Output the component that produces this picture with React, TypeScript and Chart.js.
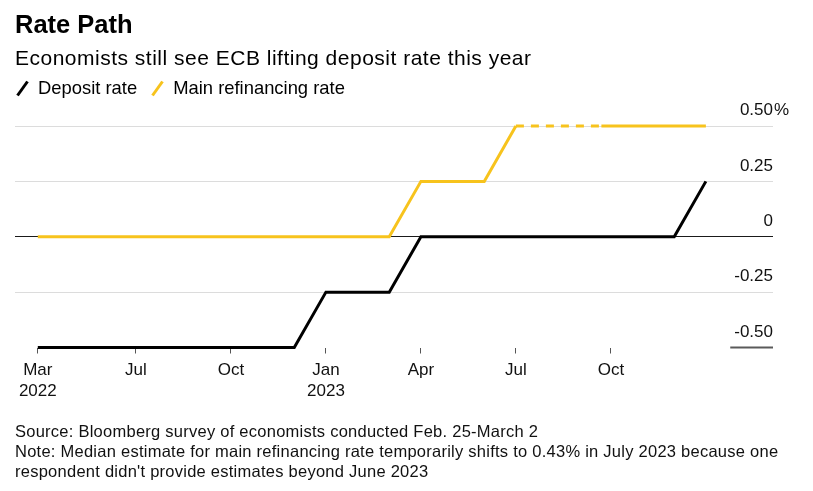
import React, { useEffect, useRef } from "react";
import { Chart, registerables } from "chart.js";

Chart.register(...registerables);

const FONT = '"Liberation Sans", Arial, Helvetica, sans-serif';

const titleText = "Rate Path";
const subtitleText = "Economists still see ECB lifting deposit rate this year";
const seriesNames = ["Deposit rate", "Main refinancing rate"];
const seriesColors = ["#000000", "#F7C31D"];

// x values: months relative to January 2023 (0 = Jan 2023)
const depositMonths = [-9.1, -1, 0, 2, 3, 11, 12];
const depositRates = [-0.5, -0.5, -0.25, -0.25, 0, 0, 0.25];
const refiMonths = [-9.1, 2, 3, 5, 6, 8.7, 12];
const refiRates = [0, 0, 0.25, 0.25, 0.5, 0.5, 0.5];
// segment i joins point i and point i+1
const refiDashedSegments = [false, false, false, false, true, false];

const xTickMonths = [-9.1, -6, -3, 0, 3, 6, 9];
const xTickLabels = [["Mar", "2022"], ["Jul"], ["Oct"], ["Jan", "2023"], ["Apr"], ["Jul"], ["Oct"]];
const xMin = -9.82;
const xMax = 14.12;

const yTickValues = [0.5, 0.25, 0, -0.25, -0.5];
const yTickLabels = ["0.50", "0.25", "0", "-0.25", "-0.50"];
const yUnitSuffix = "%";
const yMin = -0.5;
const yMax = 0.5;

const sourceText = "Source: Bloomberg survey of economists conducted Feb. 25-March 2";
const noteText =
  "Note: Median estimate for main refinancing rate temporarily shifts to 0.43% in July 2023 because one respondent didn't provide estimates beyond June 2023";

const Y_LABEL_OFFSET = -15.5;
const AXIS_FONT_SIZE = 17;

const yAxisExtras = {
  id: "yAxisExtras",
  beforeDatasetsDraw(chart: any) {
    const { ctx, chartArea, scales } = chart;
    const y = scales.y.getPixelForValue(yMin);
    ctx.save();
    ctx.font = `${AXIS_FONT_SIZE}px ${FONT}`;
    const w = ctx.measureText(yTickLabels[yTickValues.indexOf(yMin)]).width;
    ctx.strokeStyle = "#5a5a5a";
    ctx.lineWidth = 2;
    ctx.beginPath();
    ctx.moveTo(chartArea.right - w - 4, y);
    ctx.lineTo(chartArea.right, y);
    ctx.stroke();
    ctx.restore();
  },
  afterDraw(chart: any) {
    const { ctx, chartArea, scales } = chart;
    const y = scales.y.getPixelForValue(yMax) + Y_LABEL_OFFSET;
    ctx.save();
    ctx.font = `${AXIS_FONT_SIZE}px ${FONT}`;
    ctx.fillStyle = "#111111";
    ctx.textAlign = "left";
    ctx.textBaseline = "middle";
    ctx.fillText(yUnitSuffix, chartArea.right + 1, y);
    ctx.restore();
  },
};

function LegendIcon({ color }: { color: string }) {
  return (
    <svg width="13" height="17" style={{ display: "inline-block", verticalAlign: "middle" }}>
      <line x1="1.5" y1="15.5" x2="11.5" y2="1.5" stroke={color} strokeWidth="3" />
    </svg>
  );
}

export default function App() {
  const canvasRef = useRef<HTMLCanvasElement | null>(null);

  useEffect(() => {
    const prevMargin = document.body.style.margin;
    document.body.style.margin = "0";
    const canvas = canvasRef.current;
    if (!canvas) return;
    const chart = new Chart(canvas, {
      type: "line",
      data: {
        datasets: [
          {
            label: seriesNames[0],
            data: depositMonths.map((m, i) => ({ x: m, y: depositRates[i] })),
            borderColor: seriesColors[0],
            borderWidth: 3,
            pointRadius: 0,
            tension: 0,
            clip: false as any,
            borderJoinStyle: "miter",
            order: 1,
          },
          {
            label: seriesNames[1],
            data: refiMonths.map((m, i) => ({ x: m, y: refiRates[i] })),
            borderColor: seriesColors[1],
            borderWidth: 3,
            pointRadius: 0,
            tension: 0,
            clip: false as any,
            borderJoinStyle: "miter",
            segment: {
              borderDash: (ctx: any) => (refiDashedSegments[ctx.p0DataIndex] ? [8, 7] : undefined),
            },
            order: 2,
          },
        ],
      },
      options: {
        animation: false,
        responsive: false,
        maintainAspectRatio: false,
        layout: { padding: { left: 15, right: 40, top: 126, bottom: 83 } },
        plugins: {
          legend: { display: false },
          tooltip: { enabled: false },
          title: { display: false },
        },
        scales: {
          x: {
            type: "linear",
            min: xMin,
            max: xMax,
            afterBuildTicks: (axis: any) => {
              axis.ticks = xTickMonths.map((v) => ({ value: v }));
            },
            ticks: {
              autoSkip: false,
              maxRotation: 0,
              minRotation: 0,
              padding: 6,
              color: "#111111",
              font: { family: FONT, size: AXIS_FONT_SIZE, lineHeight: 1.25 },
              callback: (v: any) => {
                const i = xTickMonths.indexOf(Number(v));
                return i >= 0 ? xTickLabels[i] : "";
              },
            },
            grid: {
              drawOnChartArea: false,
              drawTicks: true,
              tickLength: 6,
              tickWidth: 1,
              color: "#555555",
            },
            border: { display: false },
          },
          y: {
            type: "linear",
            position: "right",
            min: yMin,
            max: yMax,
            afterBuildTicks: (axis: any) => {
              axis.ticks = yTickValues.map((v) => ({ value: v }));
            },
            ticks: {
              mirror: true,
              padding: 0,
              labelOffset: Y_LABEL_OFFSET,
              color: "#111111",
              font: { family: FONT, size: AXIS_FONT_SIZE },
              callback: (v: any) => {
                const i = yTickValues.indexOf(Number(v));
                return i >= 0 ? yTickLabels[i] : "";
              },
            },
            grid: {
              drawTicks: false,
              lineWidth: 1,
              color: (ctx: any) => {
                const v = ctx.tick ? ctx.tick.value : null;
                if (v === 0) return "#1a1a1a";
                if (v === yMin) return "rgba(0,0,0,0)";
                return "#dcdcdc";
              },
            },
            border: { display: false },
          },
        },
      } as any,
      plugins: [yAxisExtras],
    });
    return () => {
      chart.destroy();
      document.body.style.margin = prevMargin;
    };
  }, []);

  return (
    <div
      style={{
        position: "absolute",
        left: 0,
        top: 0,
        width: 813,
        height: 491,
        background: "#ffffff",
        fontFamily: FONT,
        color: "#000000",
        overflow: "hidden",
      }}
    >
      <canvas ref={canvasRef} width={813} height={491} style={{ position: "absolute", left: 0, top: 0, width: 813, height: 491 }} />
      <div style={{ position: "absolute", left: 15, top: 11.5, fontSize: 25.5, lineHeight: "25.5px", fontWeight: 700 }}>{titleText}</div>
      <div style={{ position: "absolute", left: 15, top: 46.5, fontSize: 21, lineHeight: "21px", letterSpacing: 0.5, whiteSpace: "nowrap" }}>{subtitleText}</div>
      <div style={{ position: "absolute", left: 16, top: 78.5, fontSize: 18.4, lineHeight: "18px", whiteSpace: "nowrap" }}>
        <LegendIcon color={seriesColors[0]} />
        <span style={{ marginLeft: 9, marginRight: 14 }}>{seriesNames[0]}</span>
        <LegendIcon color={seriesColors[1]} />
        <span style={{ marginLeft: 9 }}>{seriesNames[1]}</span>
      </div>
      <div style={{ position: "absolute", left: 15, top: 421, width: 785, fontSize: 16.5, lineHeight: "20px", letterSpacing: 0.25, color: "#111111" }}>
        <div>{sourceText}</div>
        <div>{noteText}</div>
      </div>
    </div>
  );
}
